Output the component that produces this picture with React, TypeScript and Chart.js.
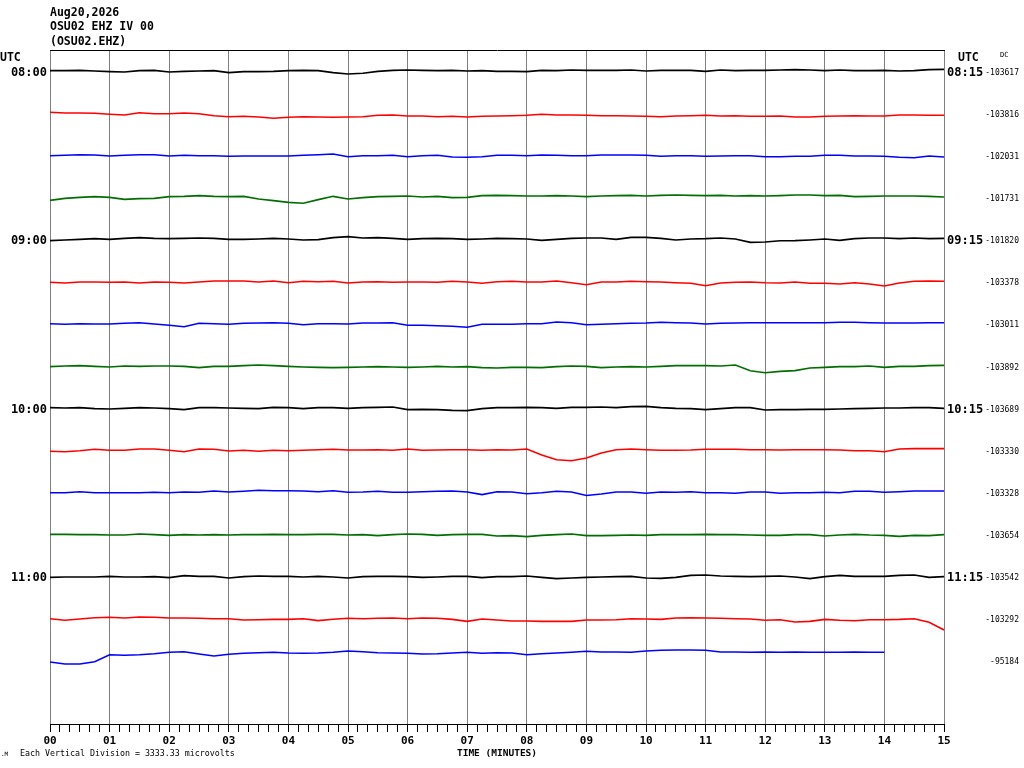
import React, { useEffect, useRef } from "react";
import { Chart, registerables } from "chart.js";

Chart.register(...registerables);

// ---------- header / annotation text ----------
const TITLE_LINES = ["Aug20,2026", "OSU02 EHZ IV 00", "(OSU02.EHZ)"];
const SCALE_NOTE = "Each Vertical Division = 3333.33 microvolts";
const X_TITLE = "TIME (MINUTES)";

// ---------- axes ----------
const MINUTE_LABELS = ["00", "01", "02", "03", "04", "05", "06", "07", "08", "09", "10", "11", "12", "13", "14", "15"];
const TICKS_PER_MINUTE = 6; // one tick every 10 s
const HOUR_ROWS = [0, 4, 8, 12];
const START_LABELS = ["08:00", "09:00", "10:00", "11:00"];
const END_LABELS = ["08:15", "09:15", "10:15", "11:15"];
const DC_OFFSETS = [-103617, -103816, -102031, -101731, -101820, -103378, -103011, -103892, -103689, -103330, -103328, -103654, -103542, -103292, -95184];
const ROW_COUNT = 16; // rows reserved on the drum
const ROW_SPAN = 42.125; // counts between two rows

// ---------- traces (counts relative to row centre, one sample every 0.25 min) ----------
const SAMPLE_STEP_MIN = 0.25;
const TRACE_COLORS = ["#000000", "#ff0000", "#0000ff", "#006e00"];

const TRACE_0800 = [0.4, 0.4, 0.7, 0, -0.6, -1, 0.4, 0.7, -1, -0.3, 0, 0.4, -1.6, -0.6, -0.6, -0.3, 0.4, 0.7, 0.4, -1.6, -2.9, -2.2, -0.3, 0.7, 1, 0.7, 0.4, 0.7, 0, 0.4, -0.3, -0.3, -0.6, 0.7, 0.4, 1, 0.7, 0.7, 0.7, 1, 0, 0.7, 0.7, 0.7, -0.3, 1, 0.4, 0.7, 0.7, 1, 1.4, 1, 0.4, 1, 0.4, 0.4, 0.7, 0, 0.4, 1.4, 1.7];
const TRACE_0815 = [0.9, 0.2, 0.2, -0.1, -1.1, -1.8, 0.5, -0.5, -0.5, 0.2, -0.5, -2.5, -3.5, -3.1, -3.8, -5.1, -4.1, -3.5, -3.8, -4.1, -3.8, -3.5, -2.1, -1.8, -2.8, -2.8, -3.5, -3.1, -3.8, -3.1, -2.8, -2.5, -2.1, -1.1, -1.8, -1.8, -2.1, -2.5, -2.5, -2.8, -3.1, -3.5, -2.8, -2.5, -2.1, -2.8, -2.5, -3.1, -3.1, -2.8, -3.8, -3.8, -3.1, -2.8, -2.5, -2.8, -2.8, -1.8, -1.8, -2.1, -2.1];
const TRACE_0830 = [-0.4, 0, 0.6, 0.3, -0.7, 0, 0.6, 0.6, -0.7, 0, -0.4, -0.4, -1, -0.7, -0.7, -0.7, -0.7, 0, 0.6, 1.3, -1.4, -0.4, -0.4, 0, -1.4, -0.4, 0, -1.7, -2, -1.4, 0, 0, -0.4, 0.3, 0, -0.4, -0.4, 0.3, 0.3, 0.3, 0, -1, -0.4, -0.4, -1, -0.7, -0.4, -0.4, -1.4, -1.4, -1, -1, 0, 0, -0.7, -0.7, -1, -2, -2.4, -0.7, -1.7];
const TRACE_0845 = [-2.9, -0.9, 0.1, 0.8, 0.1, -1.9, -1.2, -0.9, 0.8, 1.1, 1.8, 1.1, 0.8, 1.1, -1.5, -3.2, -4.9, -5.8, -2.2, 1.1, -1.5, -0.2, 0.8, 1.1, 1.4, 0.4, 1.1, -0.2, 0.1, 1.8, 2.1, 1.8, 1.4, 1.4, 1.8, 1.4, 0.8, 1.4, 1.8, 2.1, 1.4, 2.1, 2.4, 2.1, 1.8, 2.1, 1.4, 1.8, 1.4, 1.8, 2.4, 2.4, 1.8, 2.1, 0.8, 1.1, 1.4, 1.4, 1.4, 1.1, 0.4];
const TRACE_0900 = [-1.1, -0.4, 0.2, 0.9, 0.2, 1.2, 1.9, 1.2, 0.9, 1.2, 1.6, 1.2, 0.2, 0.2, 0.6, 1.2, 0.6, -0.4, -0.1, 1.9, 2.9, 1.6, 1.9, 1.2, 0.2, 0.9, 1.2, 0.9, 0.2, 0.6, 1.2, 0.9, 0.6, -0.8, 0.2, 1.2, 1.6, 1.6, 0.2, 2.2, 2.2, 1.2, -0.4, 0.6, 0.9, 1.6, 0.6, -2.8, -2.5, -1.2, -1.1, -0.4, 0.6, -0.8, 0.9, 1.6, 1.6, 0.9, 1.6, 0.9, 1.2];
const TRACE_0915 = [-0.6, -1.3, -0.3, -0.3, -0.6, -0.3, -1.3, -0.3, -0.6, -1.3, -0.3, 0.7, 0.7, 0.7, -0.3, 0.7, -1, 0.4, 0, 0.4, -1.3, -0.3, 0, -0.6, -0.3, -0.3, -0.6, 0.4, -0.3, -1.6, 0, 0.4, -0.3, -0.3, 0.7, -1, -3, -0.3, -0.3, 0.4, 0, -0.3, -1, -1.6, -4, -1.3, -0.6, -0.3, -1, -1.3, -0.3, -1.6, -1.6, -2.3, -1, -2.3, -4.3, -1.3, 0.4, 0.7, 0.4];
const TRACE_0930 = [0.1, -0.5, 0.1, -0.2, -0.2, 0.5, 1.1, -0.2, -1.5, -2.9, 0.5, 0.1, -0.5, 0.5, 0.8, 1.1, 0.5, -0.9, 0.1, 0.1, -0.2, 0.8, 0.8, 1.1, -1.5, -1.5, -1.9, -2.5, -3.5, -0.5, -0.5, -0.5, 0.1, 0.1, 1.8, 1.1, -0.9, -0.5, 0.1, 0.5, 0.8, 1.5, 1.1, 0.8, -0.2, 0.5, 0.8, 1.1, 1.1, 1.1, 1.1, 1.1, 1.1, 1.5, 1.5, 1.1, 0.8, 0.8, 0.8, 1.1, 1.1];
const TRACE_0945 = [-0.7, 0, 0.3, -0.4, -1, 0, -0.4, 0, 0, -0.4, -1.7, -0.4, -0.4, 0.3, 1, 0.3, -0.4, -1, -1.4, -1.7, -1.4, -1, -0.7, -1, -1.4, -1, -0.4, -1, -0.7, -1.7, -2, -1.4, -1.4, -1.7, -0.7, 0, -0.4, -1.7, -1, -0.7, -1, -0.4, 0.3, 0.3, 0.3, 0, 1, -4.8, -6.8, -5.4, -4.7, -2, -1.4, -0.7, -0.7, 0, -1.4, -0.4, -0.4, 0.3, 0.6];
const TRACE_1000 = [0.4, 0, 0.4, -0.6, -1, -0.3, 0.4, 0, -0.6, -1.6, 0.4, 0.4, 0, -0.3, -0.6, 0.7, 0.4, -0.6, 0.4, 0.4, -0.3, 0.4, 0.7, 1, -1.6, -1.3, -1.6, -2.3, -2.6, -0.6, 0.4, 0.4, 0.7, 0.4, -0.3, 0.7, 0.7, 1, 0.4, 1.4, 1.7, 0.4, -0.3, -0.6, -1.6, -0.6, 0.4, 0.4, -2, -1.6, -1.6, -1.3, -1.3, -1, -0.6, -0.3, 0, 0, 0.4, 0.4, -0.3];
const TRACE_1015 = [-1.1, -1.5, -0.5, 0.9, -0.1, -0.1, 1.2, 1.2, -0.1, -1.5, 1.2, 0.9, -0.8, -0.1, -1.1, -0.1, -0.5, -0.1, 0.5, 0.9, 0.2, 0.2, 0.5, -0.1, 1.2, -0.1, 0.2, 0.5, 0.5, -0.1, 0.5, 0.2, 1.2, -4.8, -9.5, -10.5, -7.8, -2.8, 0.5, 1.2, 0.5, -0.1, -0.1, 0.2, 0.9, 0.9, 0.9, 0.5, 0.5, 0.2, 0.5, 0.5, 0.5, 0.2, -0.5, -0.5, -1.5, 1.2, 1.6, 1.6, 1.6];
const TRACE_1030 = [-0.4, -0.4, 0.6, -0.4, -0.4, -0.4, -0.4, 0, -0.4, 0.3, 0, 1.3, 0.3, 1, 2, 1.6, 1.6, 1.3, 0.6, 1.6, 0, 0.3, 1, 0, 0, 0.6, 1, 1.3, 0.3, -2.3, 0.6, 0.3, -1.4, -0.4, 1, 0.3, -3.2, -1.7, 0.3, 0.3, -1, 0.3, 0, 0.6, -0.4, -0.4, -1, 0.3, 0.3, -1, -0.4, -0.4, 0, -0.4, 1, 1, 0, 0.6, 1.3, 1.3, 1.3];
const TRACE_1045 = [0.1, 0.1, -0.2, -0.2, -0.6, -0.6, 0.4, -0.2, -0.9, -0.2, -0.6, -0.2, -0.6, -0.2, -0.2, 0.1, -0.2, -0.2, 0.1, 0.1, -0.6, -0.2, -1.2, -0.2, 0.4, 0.1, -0.9, -0.2, 0.1, 0.1, -1.5, -1.2, -2.2, -0.9, -0.2, 0.4, -1.2, -1.2, -0.9, -0.6, -0.9, -0.2, -0.2, -0.2, 0.1, -0.2, -0.2, -0.6, -0.9, -0.9, -0.2, -0.2, -1.6, -0.6, 0.1, -0.6, -0.9, -1.9, -0.9, -1.2, -0.2];
const TRACE_1100 = [-0.8, -0.4, -0.4, -0.4, 0.2, -0.4, -0.4, -0.1, -1.1, 0.9, 0.2, 0.2, -1.4, -0.1, 0.6, 0.2, 0.2, -0.4, 0.2, -0.4, -1.4, -0.1, 0.2, 0.2, -0.1, -0.8, -0.4, 0.2, 0.2, -1.1, -0.1, -0.1, 0.6, -0.8, -2.1, -1.4, -0.8, -0.4, -0.1, 0.2, -1.4, -1.8, -0.8, 1.2, 1.6, 0.6, 0.2, -0.1, 0.2, 0.6, -0.4, -2.1, -0.1, 1.2, 0.2, 0.2, 0.2, 1.2, 1.6, -0.8, -0.1];
const TRACE_1115 = [0, -1.6, -0.3, 1, 1.4, 0.7, 1.7, 1.4, 0.7, 0.7, 0.4, 0, 0, -1.3, -1, -0.7, -0.7, 0, -1.9, -0.6, 0.4, 0, 0.4, 0.7, 0, 0.7, 0.4, -0.7, -2.7, -0.3, -1.3, -2.3, -2.3, -2.7, -2.7, -2.7, -1.3, -1.3, -1, 0, -0.3, -0.7, 0.7, 1, 0.7, 0.4, 0, -0.3, -1.6, -1, -3.3, -2.7, -0.7, -1.6, -2, -1, -1, -0.7, 0, -3.6, -11.3];
const TRACE_1130 = [-1.2, -3.2, -3.2, -0.9, 6.1, 5.5, 6.1, 7.1, 8.5, 9.1, 6.8, 4.8, 6.5, 7.5, 8.1, 8.5, 7.8, 7.5, 7.8, 8.5, 9.8, 9.1, 8.1, 7.8, 7.5, 6.8, 7.1, 7.8, 8.5, 7.5, 8.1, 7.8, 6.1, 7.1, 7.8, 8.5, 9.5, 8.8, 8.8, 8.5, 9.8, 10.5, 10.8, 10.8, 10.5, 8.8, 8.8, 8.5, 8.8, 8.5, 8.8, 8.5, 8.5, 8.5, 8.8, 8.5, 8.5];

const TRACES = [
  TRACE_0800, TRACE_0815, TRACE_0830, TRACE_0845, TRACE_0900,
  TRACE_0915, TRACE_0930, TRACE_0945, TRACE_1000, TRACE_1015,
  TRACE_1030, TRACE_1045, TRACE_1100, TRACE_1115, TRACE_1130,
];

const FONT_MONO = '"DejaVu Sans Mono", "Liberation Mono", monospace';
const GRID_GREY = "#808080";

const rowCentre = (row: number) => -(row + 0.5) * ROW_SPAN;
const isWholeMinute = (v: number) => Math.abs(v - Math.round(v)) < 1e-6;

const textPlugin = {
  id: "helicorderText",
  afterDraw(chart: any) {
    const ctx = chart.ctx as CanvasRenderingContext2D;
    ctx.save();
    ctx.fillStyle = "#000";
    ctx.textBaseline = "alphabetic";
    ctx.textAlign = "left";
    ctx.font = `bold 11.5px ${FONT_MONO}`;
    TITLE_LINES.forEach((t, i) => ctx.fillText(t, 50, 15.7 + i * 14.6));
    ctx.fillText("UTC", 0, 60.7);
    ctx.fillText("UTC", 958, 60.7);
    ctx.font = `7px ${FONT_MONO}`;
    ctx.fillText("DC", 1000, 56.7);
    ctx.font = `8.3px ${FONT_MONO}`;
    ctx.fillText(SCALE_NOTE, 20, 756);
    ctx.font = `6px ${FONT_MONO}`;
    ctx.fillText(".M", 1, 756);
    ctx.restore();
  },
};

export default function App() {
  const ref = useRef<HTMLCanvasElement | null>(null);

  useEffect(() => {
    document.body.style.margin = "0";
    if (!ref.current) return;

    const datasets = TRACES.map((vals, row) => ({
      label: "row " + row,
      data: vals.map((v, k) => ({ x: k * SAMPLE_STEP_MIN, y: rowCentre(row) + v })),
      borderColor: TRACE_COLORS[row % TRACE_COLORS.length],
      backgroundColor: TRACE_COLORS[row % TRACE_COLORS.length],
      borderWidth: 1.6,
      pointRadius: 0,
      tension: 0,
      fill: false,
      xAxisID: "x",
      yAxisID: "y",
    }));

    const minuteTicks = (scale: any) => {
      const t: { value: number }[] = [];
      for (let i = 0; i <= (MINUTE_LABELS.length - 1) * TICKS_PER_MINUTE; i++) t.push({ value: i / TICKS_PER_MINUTE });
      scale.ticks = t;
    };

    const chart = new Chart(ref.current, {
      type: "line",
      data: { datasets },
      plugins: [textPlugin],
      options: {
        animation: false,
        responsive: false,
        devicePixelRatio: 1,
        layout: { padding: { top: 50, left: 0, right: 5, bottom: 0 } },
        plugins: { legend: { display: false }, tooltip: { enabled: false }, title: { display: false } },
        scales: {
          x: {
            type: "linear",
            position: "bottom",
            min: 0,
            max: MINUTE_LABELS.length - 1,
            afterBuildTicks: minuteTicks,
            afterFit: (s: any) => { s.height = 44; },
            grid: {
              display: true,
              drawOnChartArea: true,
              drawTicks: true,
              tickLength: 8,
              lineWidth: 1,
              color: (c: any) => (c.tick && isWholeMinute(c.tick.value) ? GRID_GREY : "rgba(0,0,0,0)"),
              tickColor: "#000",
            },
            border: { display: true, color: "#000", width: 1 },
            ticks: {
              autoSkip: false,
              maxRotation: 0,
              minRotation: 0,
              padding: 3,
              color: "#000",
              font: { family: FONT_MONO, size: 11, weight: "bold" },
              callback: (v: any) => (isWholeMinute(Number(v)) ? MINUTE_LABELS[Math.round(Number(v))] : ""),
            },
            title: {
              display: true,
              text: X_TITLE,
              color: "#000",
              font: { family: FONT_MONO, size: 9.5, weight: "bold" },
              padding: { top: 0, bottom: 9 },
            },
          },
          xTop: {
            type: "linear",
            position: "top",
            min: 0,
            max: MINUTE_LABELS.length - 1,
            afterFit: (s: any) => { s.height = 0; },
            grid: { display: false, drawTicks: false },
            ticks: { display: false },
            border: { display: true, color: "#000", width: 1 },
          },
          y: {
            type: "linear",
            position: "left",
            min: -ROW_COUNT * ROW_SPAN,
            max: 0,
            afterBuildTicks: (s: any) => { s.ticks = HOUR_ROWS.map((r) => ({ value: rowCentre(r) })); },
            afterFit: (s: any) => { s.width = 50; },
            grid: { display: false, drawTicks: false },
            border: { display: false },
            ticks: {
              autoSkip: false,
              padding: 3,
              labelOffset: 1.5,
              color: "#000",
              font: { family: FONT_MONO, size: 12, weight: "bold" },
              callback: (_v: any, i: number) => START_LABELS[i],
            },
          },
          yEnd: {
            type: "linear",
            position: "right",
            weight: 0,
            min: -ROW_COUNT * ROW_SPAN,
            max: 0,
            afterBuildTicks: (s: any) => { s.ticks = HOUR_ROWS.map((r) => ({ value: rowCentre(r) })); },
            afterFit: (s: any) => { s.width = 40; },
            grid: { display: false, drawTicks: false },
            border: { display: false },
            ticks: {
              autoSkip: false,
              padding: 3,
              labelOffset: 1.5,
              color: "#000",
              font: { family: FONT_MONO, size: 12, weight: "bold" },
              callback: (_v: any, i: number) => END_LABELS[i],
            },
          },
          yDc: {
            type: "linear",
            position: "right",
            weight: 1,
            min: -ROW_COUNT * ROW_SPAN,
            max: 0,
            afterBuildTicks: (s: any) => { s.ticks = DC_OFFSETS.map((_d, r) => ({ value: rowCentre(r) })); },
            afterFit: (s: any) => { s.width = 35; },
            grid: { display: false, drawTicks: false },
            border: { display: false },
            ticks: {
              autoSkip: false,
              padding: 0,
              labelOffset: 1.5,
              crossAlign: "far",
              color: "#000",
              font: { family: FONT_MONO, size: 8 },
              callback: (_v: any, i: number) => String(DC_OFFSETS[i]),
            },
          },
        },
      } as any,
    });

    return () => chart.destroy();
  }, []);

  return (
    <div style={{ width: 1024, height: 768, background: "#fff" }}>
      <canvas ref={ref} width={1024} height={768} style={{ display: "block" }} />
    </div>
  );
}
